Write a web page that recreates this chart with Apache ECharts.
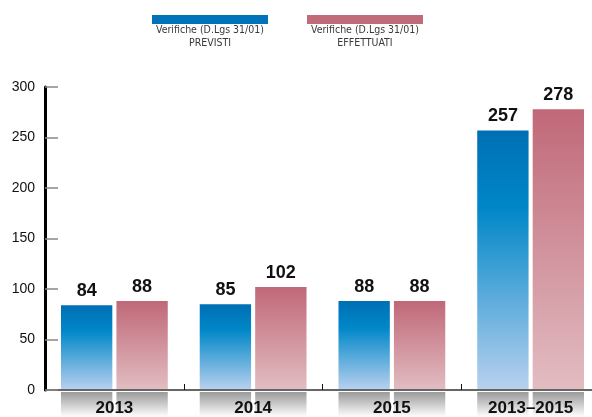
<!DOCTYPE html>
<html>
<head>
<meta charset="utf-8">
<script src="https://cdn.jsdelivr.net/npm/echarts@6/dist/echarts.min.js"></script>
<style>
  html, body { margin: 0; padding: 0; background: #fff; overflow: hidden; }
  /* il grafico originale continua oltre il bordo destro */
  #chart { width: 604px; height: 417px; }
</style>
</head>
<body>
<div id="chart"></div>
<script>
// dati
var categories = ['2013', '2014', '2015', '2013\u20132015'];
var previsti = [84, 85, 88, 257];
var effettuati = [88, 102, 88, 278];
var yTicks = [0, 50, 100, 150, 200, 250, 300];
var legendLines = ['Verifiche (D.Lgs 31/01)\nPREVISTI', 'Verifiche (D.Lgs 31/01)\nEFFETTUATI'];
var shadowBase = [1, 1, 1, 1];

var font = '"Liberation Sans", Arial, sans-serif';
var narrowFont = '"DejaVu Sans Condensed", "Liberation Sans", sans-serif';

function grad(stops) {
    return new echarts.graphic.LinearGradient(0, 0, 0, 1, stops);
}

var blueFill = grad([
    { offset: 0, color: '#006fb4' },
    { offset: 0.3, color: '#0087c8' },
    { offset: 1, color: '#b9d1ef' }
]);
var pinkFill = grad([
    { offset: 0, color: '#c06878' },
    { offset: 1, color: '#e2bdc2' }
]);
var grayFill = grad([
    { offset: 0, color: '#9a9a9a' },
    { offset: 1, color: '#ffffff' }
]);

var labelStyle = {
    show: true,
    position: 'top',
    distance: 5,
    color: '#111',
    fontFamily: font,
    fontWeight: 'bold',
    fontSize: 18
};

var legendText = { fontFamily: narrowFont, fontWeight: 'normal', fontSize: 10.5, color: '#3a3a3a', lineHeight: 13 };

var chart = echarts.init(document.getElementById('chart'));

chart.setOption({
    animation: false,
    legend: [
        { left: 147, top: 10, itemWidth: 116, itemHeight: 9, icon: 'rect', selectedMode: false,
          data: [{ name: 'previsti', itemStyle: { color: '#0072b9' } }],
          formatter: function () { return ''; } },
        { left: 302, top: 10, itemWidth: 116, itemHeight: 9, icon: 'rect', selectedMode: false,
          data: [{ name: 'effettuati', itemStyle: { color: '#c06a7a' } }],
          formatter: function () { return ''; } }
    ],
    title: [
        { text: legendLines[0], left: 205, top: 19, textAlign: 'center', textStyle: legendText },
        { text: legendLines[1], left: 360, top: 19, textAlign: 'center', textStyle: legendText }
    ],
    grid: [
        { left: 45, top: 87, width: 555, height: 303 },
        { left: 45, top: 392, width: 555, height: 25 }
    ],
    xAxis: [
        {
            type: 'category',
            data: categories,
            gridIndex: 0,
            z: 5,
            axisLine: { lineStyle: { color: '#666', width: 2 } },
            axisTick: { show: true, inside: true, length: 6, lineStyle: { color: '#111', width: 1 } },
            axisLabel: { margin: 10, color: '#111', fontFamily: font, fontWeight: 'bold', fontSize: 17 }
        },
        {
            type: 'category',
            data: categories,
            gridIndex: 1,
            show: false
        }
    ],
    yAxis: [
        {
            type: 'value',
            gridIndex: 0,
            min: 0,
            max: 300,
            interval: 50,
            z: 6,
            axisLine: { show: true, lineStyle: { color: '#000', width: 3 } },
            axisTick: { show: true, inside: true, length: 13, lineStyle: { color: '#888', width: 1.5 } },
            splitLine: { show: false },
            axisLabel: {
                margin: 10, color: '#111', fontFamily: font, fontSize: 14,
                formatter: function (v) { return yTicks.indexOf(v) >= 0 ? String(v) : ''; }
            }
        },
        {
            type: 'value',
            gridIndex: 1,
            min: 0,
            max: 1,
            inverse: true,
            show: false
        }
    ],
    series: [
        {
            name: 'previsti',
            type: 'bar',
            data: previsti,
            barWidth: '37%',
            barGap: '8%',
            itemStyle: { color: blueFill },
            label: labelStyle
        },
        {
            name: 'effettuati',
            type: 'bar',
            data: effettuati,
            barWidth: '37%',
            barGap: '8%',
            itemStyle: { color: pinkFill },
            label: labelStyle
        },
        {
            type: 'bar', xAxisIndex: 1, yAxisIndex: 1, data: shadowBase,
            barWidth: '37%', barGap: '8%', silent: true,
            itemStyle: { color: grayFill }
        },
        {
            type: 'bar', xAxisIndex: 1, yAxisIndex: 1, data: shadowBase,
            barWidth: '37%', barGap: '8%', silent: true,
            itemStyle: { color: grayFill }
        }
    ]
});
</script>
</body>
</html>
